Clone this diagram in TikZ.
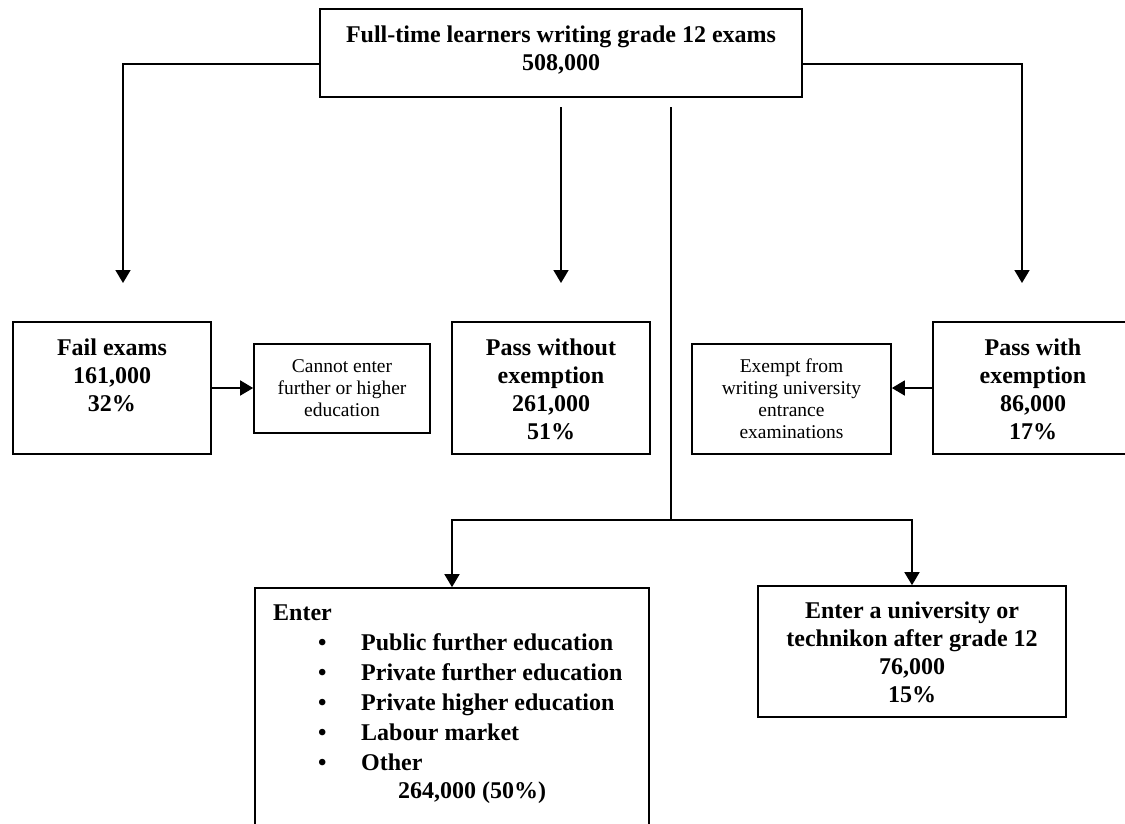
\documentclass[tikz,border=0pt]{standalone}
\usepackage{fontspec}
\setmainfont{Liberation Serif}
\usetikzlibrary{arrows.meta}
\newcommand{\stk}[1]{\begin{tabular}[t]{@{}c@{}}#1\end{tabular}}
\newcommand{\stkl}[1]{\begin{tabular}[t]{@{}l@{}}#1\end{tabular}}
\newcommand{\bitem}{\makebox[88pt][l]{\hspace*{45pt}\textbullet}}
\begin{document}
\begin{tikzpicture}[x=1pt,y=-1pt,
  box/.style={draw, line width=1.7pt, inner sep=0pt, rectangle},
  big/.style={inner sep=0pt, anchor=base, font=\fontsize{24}{28}\selectfont\bfseries},
  small/.style={inner sep=0pt, anchor=base, font=\fontsize{19.5}{22}\selectfont},
  conn/.style={line width=1.8pt},
  arr/.style={line width=1.7pt, -{Triangle[width=15pt,length=13pt]}}]
\useasboundingbox (0,0) rectangle (1125,823);
\clip (0,0) rectangle (1125,823);
\fill[white] (0,0) rectangle (1125,823);

% boxes
\node[box, minimum width=482pt, minimum height=88pt] (top) at (561,53) {};
\node[box, minimum width=198pt, minimum height=132pt] (fail) at (112,388) {};
\node[box, minimum width=176pt, minimum height=89pt] (cannot) at (342,388.5) {};
\node[box, minimum width=198pt, minimum height=132pt] (without) at (551,388) {};
\node[box, minimum width=199pt, minimum height=110pt] (exempt) at (791.5,399) {};
\node[box, minimum width=200pt, minimum height=132pt] (with) at (1033,388) {};
\node[box, minimum width=394pt, minimum height=262pt] (enter) at (452,719) {};
\node[box, minimum width=308pt, minimum height=131pt] (univ) at (912,651.5) {};

% texts
\node[big] (toptext) at (561,42) {\stk{Full-time learners writing grade 12 exams\\508,000}};
\node[big] (failtext) at (112,355) {\stk{Fail exams\\161,000\\32\%}};
\node[big] (withouttext) at (551,355) {\stk{Pass without\\exemption\\261,000\\51\%}};
\node[big] (withtext) at (1033,355) {\stk{Pass with\\exemption\\86,000\\17\%}};
\node[small] (cannottext) at (342,372) {\stk{Cannot enter\\further or higher\\education}};
\node[small] (exempttext) at (791.5,372) {\stk{Exempt from\\writing university\\entrance\\examinations}};
\node[big] (univtext) at (912,618) {\stk{Enter a university or\\technikon after grade 12\\76,000\\15\%}};
\node[big, anchor=base west, font=\fontsize{24}{30}\selectfont\bfseries] (entertext) at (273,620)
  {\stkl{Enter\\
  \bitem Public further education\\
  \bitem Private further education\\
  \bitem Private higher education\\
  \bitem Labour market\\
  \bitem Other\\[-2pt]
  \hspace*{125pt}264,000 (50\%)}};

% free ends
\coordinate (failin) at (123,283);
\coordinate (withoutin) at (561,283);
\coordinate (withoutout) at (561,107);
\coordinate (within) at (1022,283);
\coordinate (ctop) at (671,107);
\coordinate (split) at (671,520);

% connectors
\draw[arr] ([yshift=-11pt]top.west) -| (failin);
\draw[arr] ([yshift=-11pt]top.east) -| (within);
\draw[arr] (withoutout) -- (withoutin);
\draw[conn] (ctop) -- (split);
\draw[arr] (split) -| (enter.north);
\draw[arr] (split) -| (univ.north);
\draw[arr] (fail.east) -- (cannot.west |- fail.east);
\draw[arr] (with.west) -- (exempt.east |- with.west);
\end{tikzpicture}
\end{document}
